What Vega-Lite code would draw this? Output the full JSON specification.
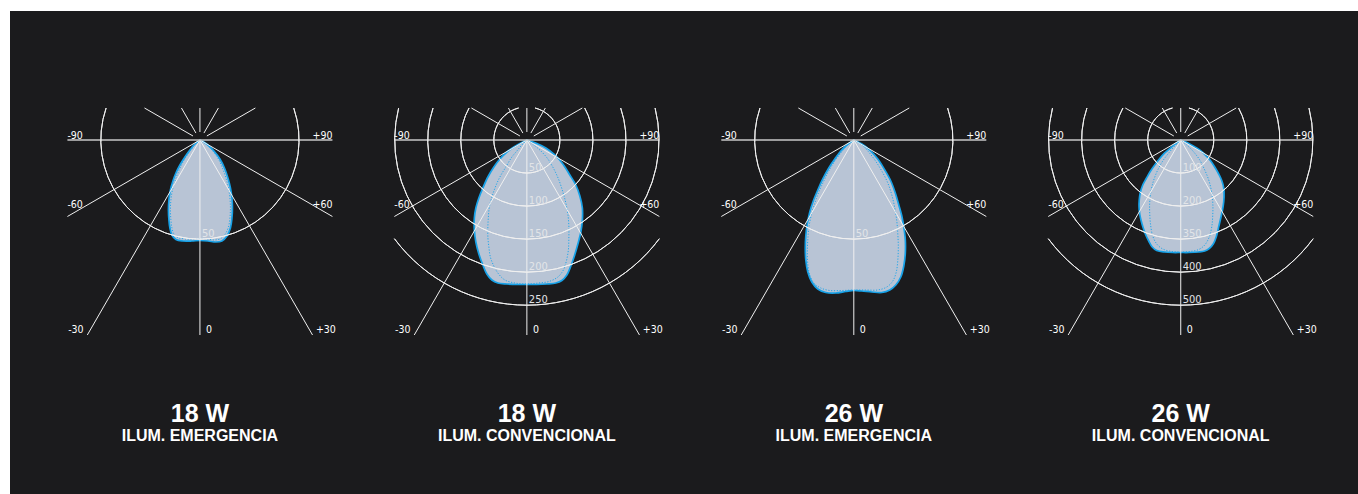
{
"$schema": "https://vega.github.io/schema/vega-lite/v6.json",
"width": 1348, "height": 483,
"padding": {"left": 10, "top": 11, "right": 0, "bottom": 0},
"autosize": {"type": "pad"},
"background": "white",
"config": {"view": {"fill": "#1b1b1d", "stroke": null}},
"datasets": {
"shapes": [
{"panel":1,"curve":"outer","i":0,"x":0,"y":0},{"panel":1,"curve":"outer","i":1,"x":-0.151,"y":0.121},{"panel":1,"curve":"outer","i":2,"x":-0.303,"y":0.303},{"panel":1,"curve":"outer","i":3,"x":-0.454,"y":0.515},{"panel":1,"curve":"outer","i":4,"x":-0.605,"y":0.757},{"panel":1,"curve":"outer","i":5,"x":-0.726,"y":0.999},{"panel":1,"curve":"outer","i":6,"x":-0.817,"y":1.241},{"panel":1,"curve":"outer","i":7,"x":-0.893,"y":1.513},{"panel":1,"curve":"outer","i":8,"x":-0.938,"y":1.816},{"panel":1,"curve":"outer","i":9,"x":-0.953,"y":2.119},{"panel":1,"curve":"outer","i":10,"x":-0.938,"y":2.421},{"panel":1,"curve":"outer","i":11,"x":-0.908,"y":2.663},{"panel":1,"curve":"outer","i":12,"x":-0.847,"y":2.875},{"panel":1,"curve":"outer","i":13,"x":-0.726,"y":3.012},{"panel":1,"curve":"outer","i":14,"x":-0.515,"y":3.057},{"panel":1,"curve":"outer","i":15,"x":-0.242,"y":3.057},{"panel":1,"curve":"outer","i":16,"x":0,"y":3.042},{"panel":1,"curve":"outer","i":17,"x":0.242,"y":3.057},{"panel":1,"curve":"outer","i":18,"x":0.484,"y":3.087},{"panel":1,"curve":"outer","i":19,"x":0.666,"y":3.057},{"panel":1,"curve":"outer","i":20,"x":0.817,"y":2.906},{"panel":1,"curve":"outer","i":21,"x":0.923,"y":2.663},{"panel":1,"curve":"outer","i":22,"x":0.969,"y":2.361},{"panel":1,"curve":"outer","i":23,"x":0.984,"y":2.058},{"panel":1,"curve":"outer","i":24,"x":0.969,"y":1.755},{"panel":1,"curve":"outer","i":25,"x":0.923,"y":1.453},{"panel":1,"curve":"outer","i":26,"x":0.847,"y":1.15},{"panel":1,"curve":"outer","i":27,"x":0.742,"y":0.847},{"panel":1,"curve":"outer","i":28,"x":0.605,"y":0.575},{"panel":1,"curve":"outer","i":29,"x":0.424,"y":0.333},{"panel":1,"curve":"outer","i":30,"x":0.242,"y":0.151},{"panel":1,"curve":"outer","i":31,"x":0.091,"y":0.045},{"panel":1,"curve":"outer","i":32,"x":0,"y":0},
{"panel":1,"curve":"inner","i":0,"x":0,"y":0},{"panel":1,"curve":"inner","i":1,"x":-0.136,"y":0.121},{"panel":1,"curve":"inner","i":2,"x":-0.272,"y":0.303},{"panel":1,"curve":"inner","i":3,"x":-0.424,"y":0.515},{"panel":1,"curve":"inner","i":4,"x":-0.56,"y":0.757},{"panel":1,"curve":"inner","i":5,"x":-0.666,"y":0.999},{"panel":1,"curve":"inner","i":6,"x":-0.757,"y":1.241},{"panel":1,"curve":"inner","i":7,"x":-0.832,"y":1.513},{"panel":1,"curve":"inner","i":8,"x":-0.878,"y":1.816},{"panel":1,"curve":"inner","i":9,"x":-0.893,"y":2.119},{"panel":1,"curve":"inner","i":10,"x":-0.878,"y":2.421},{"panel":1,"curve":"inner","i":11,"x":-0.847,"y":2.663},{"panel":1,"curve":"inner","i":12,"x":-0.787,"y":2.845},{"panel":1,"curve":"inner","i":13,"x":-0.666,"y":2.951},{"panel":1,"curve":"inner","i":14,"x":-0.454,"y":2.996},{"panel":1,"curve":"inner","i":15,"x":-0.212,"y":2.996},{"panel":1,"curve":"inner","i":16,"x":0,"y":2.981},{"panel":1,"curve":"inner","i":17,"x":0.212,"y":2.996},{"panel":1,"curve":"inner","i":18,"x":0.424,"y":3.027},{"panel":1,"curve":"inner","i":19,"x":0.605,"y":2.996},{"panel":1,"curve":"inner","i":20,"x":0.757,"y":2.86},{"panel":1,"curve":"inner","i":21,"x":0.863,"y":2.633},{"panel":1,"curve":"inner","i":22,"x":0.908,"y":2.361},{"panel":1,"curve":"inner","i":23,"x":0.923,"y":2.058},{"panel":1,"curve":"inner","i":24,"x":0.908,"y":1.755},{"panel":1,"curve":"inner","i":25,"x":0.863,"y":1.453},{"panel":1,"curve":"inner","i":26,"x":0.787,"y":1.15},{"panel":1,"curve":"inner","i":27,"x":0.681,"y":0.847},{"panel":1,"curve":"inner","i":28,"x":0.56,"y":0.575},{"panel":1,"curve":"inner","i":29,"x":0.393,"y":0.333},{"panel":1,"curve":"inner","i":30,"x":0.227,"y":0.151},{"panel":1,"curve":"inner","i":31,"x":0.091,"y":0.045},{"panel":1,"curve":"inner","i":32,"x":0,"y":0},
{"panel":2,"curve":"outer","i":0,"x":0,"y":0},{"panel":2,"curve":"outer","i":1,"x":-0.182,"y":0.091},{"panel":2,"curve":"outer","i":2,"x":-0.393,"y":0.212},{"panel":2,"curve":"outer","i":3,"x":-0.605,"y":0.363},{"panel":2,"curve":"outer","i":4,"x":-0.817,"y":0.575},{"panel":2,"curve":"outer","i":5,"x":-0.999,"y":0.817},{"panel":2,"curve":"outer","i":6,"x":-1.18,"y":1.12},{"panel":2,"curve":"outer","i":7,"x":-1.332,"y":1.453},{"panel":2,"curve":"outer","i":8,"x":-1.453,"y":1.755},{"panel":2,"curve":"outer","i":9,"x":-1.544,"y":2.058},{"panel":2,"curve":"outer","i":10,"x":-1.589,"y":2.361},{"panel":2,"curve":"outer","i":11,"x":-1.589,"y":2.724},{"panel":2,"curve":"outer","i":12,"x":-1.544,"y":3.087},{"panel":2,"curve":"outer","i":13,"x":-1.453,"y":3.45},{"panel":2,"curve":"outer","i":14,"x":-1.332,"y":3.783},{"panel":2,"curve":"outer","i":15,"x":-1.211,"y":4.056},{"panel":2,"curve":"outer","i":16,"x":-1.059,"y":4.237},{"panel":2,"curve":"outer","i":17,"x":-0.878,"y":4.328},{"panel":2,"curve":"outer","i":18,"x":-0.605,"y":4.358},{"panel":2,"curve":"outer","i":19,"x":-0.303,"y":4.373},{"panel":2,"curve":"outer","i":20,"x":0,"y":4.373},{"panel":2,"curve":"outer","i":21,"x":0.303,"y":4.373},{"panel":2,"curve":"outer","i":22,"x":0.605,"y":4.358},{"panel":2,"curve":"outer","i":23,"x":0.878,"y":4.328},{"panel":2,"curve":"outer","i":24,"x":1.059,"y":4.252},{"panel":2,"curve":"outer","i":25,"x":1.211,"y":4.086},{"panel":2,"curve":"outer","i":26,"x":1.332,"y":3.814},{"panel":2,"curve":"outer","i":27,"x":1.438,"y":3.511},{"panel":2,"curve":"outer","i":28,"x":1.544,"y":3.148},{"panel":2,"curve":"outer","i":29,"x":1.634,"y":2.785},{"panel":2,"curve":"outer","i":30,"x":1.68,"y":2.421},{"panel":2,"curve":"outer","i":31,"x":1.68,"y":2.058},{"panel":2,"curve":"outer","i":32,"x":1.604,"y":1.695},{"panel":2,"curve":"outer","i":33,"x":1.483,"y":1.362},{"panel":2,"curve":"outer","i":34,"x":1.301,"y":1.059},{"panel":2,"curve":"outer","i":35,"x":1.09,"y":0.726},{"panel":2,"curve":"outer","i":36,"x":0.847,"y":0.454},{"panel":2,"curve":"outer","i":37,"x":0.575,"y":0.242},{"panel":2,"curve":"outer","i":38,"x":0.303,"y":0.106},{"panel":2,"curve":"outer","i":39,"x":0,"y":0},
{"panel":2,"curve":"inner","i":0,"x":0,"y":0},{"panel":2,"curve":"inner","i":1,"x":-0.151,"y":0.151},{"panel":2,"curve":"inner","i":2,"x":-0.303,"y":0.333},{"panel":2,"curve":"inner","i":3,"x":-0.454,"y":0.515},{"panel":2,"curve":"inner","i":4,"x":-0.636,"y":0.817},{"panel":2,"curve":"inner","i":5,"x":-0.817,"y":1.12},{"panel":2,"curve":"inner","i":6,"x":-0.953,"y":1.423},{"panel":2,"curve":"inner","i":7,"x":-1.059,"y":1.725},{"panel":2,"curve":"inner","i":8,"x":-1.135,"y":2.028},{"panel":2,"curve":"inner","i":9,"x":-1.165,"y":2.331},{"panel":2,"curve":"inner","i":10,"x":-1.18,"y":2.633},{"panel":2,"curve":"inner","i":11,"x":-1.18,"y":2.936},{"panel":2,"curve":"inner","i":12,"x":-1.15,"y":3.239},{"panel":2,"curve":"inner","i":13,"x":-1.105,"y":3.541},{"panel":2,"curve":"inner","i":14,"x":-1.014,"y":3.783},{"panel":2,"curve":"inner","i":15,"x":-0.878,"y":4.025},{"panel":2,"curve":"inner","i":16,"x":-0.666,"y":4.237},{"panel":2,"curve":"inner","i":17,"x":-0.363,"y":4.328},{"panel":2,"curve":"inner","i":18,"x":0,"y":4.358},{"panel":2,"curve":"inner","i":19,"x":0.363,"y":4.328},{"panel":2,"curve":"inner","i":20,"x":0.666,"y":4.283},{"panel":2,"curve":"inner","i":21,"x":0.938,"y":4.147},{"panel":2,"curve":"inner","i":22,"x":1.105,"y":3.935},{"panel":2,"curve":"inner","i":23,"x":1.196,"y":3.662},{"panel":2,"curve":"inner","i":24,"x":1.256,"y":3.329},{"panel":2,"curve":"inner","i":25,"x":1.271,"y":2.966},{"panel":2,"curve":"inner","i":26,"x":1.271,"y":2.603},{"panel":2,"curve":"inner","i":27,"x":1.241,"y":2.24},{"panel":2,"curve":"inner","i":28,"x":1.18,"y":1.907},{"panel":2,"curve":"inner","i":29,"x":1.09,"y":1.574},{"panel":2,"curve":"inner","i":30,"x":0.969,"y":1.211},{"panel":2,"curve":"inner","i":31,"x":0.817,"y":0.878},{"panel":2,"curve":"inner","i":32,"x":0.636,"y":0.575},{"panel":2,"curve":"inner","i":33,"x":0.424,"y":0.333},{"panel":2,"curve":"inner","i":34,"x":0.212,"y":0.151},{"panel":2,"curve":"inner","i":35,"x":0,"y":0},
{"panel":3,"curve":"outer","i":0,"x":0,"y":0},{"panel":3,"curve":"outer","i":1,"x":-0.212,"y":0.151},{"panel":3,"curve":"outer","i":2,"x":-0.393,"y":0.333},{"panel":3,"curve":"outer","i":3,"x":-0.575,"y":0.575},{"panel":3,"curve":"outer","i":4,"x":-0.757,"y":0.847},{"panel":3,"curve":"outer","i":5,"x":-0.938,"y":1.18},{"panel":3,"curve":"outer","i":6,"x":-1.09,"y":1.513},{"panel":3,"curve":"outer","i":7,"x":-1.226,"y":1.846},{"panel":3,"curve":"outer","i":8,"x":-1.332,"y":2.179},{"panel":3,"curve":"outer","i":9,"x":-1.407,"y":2.542},{"panel":3,"curve":"outer","i":10,"x":-1.453,"y":2.906},{"panel":3,"curve":"outer","i":11,"x":-1.468,"y":3.269},{"panel":3,"curve":"outer","i":12,"x":-1.453,"y":3.632},{"panel":3,"curve":"outer","i":13,"x":-1.392,"y":3.995},{"panel":3,"curve":"outer","i":14,"x":-1.271,"y":4.298},{"panel":3,"curve":"outer","i":15,"x":-1.09,"y":4.51},{"panel":3,"curve":"outer","i":16,"x":-0.847,"y":4.616},{"panel":3,"curve":"outer","i":17,"x":-0.545,"y":4.631},{"panel":3,"curve":"outer","i":18,"x":-0.242,"y":4.585},{"panel":3,"curve":"outer","i":19,"x":0,"y":4.555},{"panel":3,"curve":"outer","i":20,"x":0.242,"y":4.57},{"panel":3,"curve":"outer","i":21,"x":0.545,"y":4.6},{"panel":3,"curve":"outer","i":22,"x":0.847,"y":4.616},{"panel":3,"curve":"outer","i":23,"x":1.09,"y":4.54},{"panel":3,"curve":"outer","i":24,"x":1.271,"y":4.389},{"panel":3,"curve":"outer","i":25,"x":1.423,"y":4.147},{"panel":3,"curve":"outer","i":26,"x":1.513,"y":3.814},{"panel":3,"curve":"outer","i":27,"x":1.559,"y":3.42},{"panel":3,"curve":"outer","i":28,"x":1.559,"y":3.027},{"panel":3,"curve":"outer","i":29,"x":1.513,"y":2.633},{"panel":3,"curve":"outer","i":30,"x":1.453,"y":2.3},{"panel":3,"curve":"outer","i":31,"x":1.362,"y":1.967},{"panel":3,"curve":"outer","i":32,"x":1.256,"y":1.604},{"panel":3,"curve":"outer","i":33,"x":1.12,"y":1.241},{"panel":3,"curve":"outer","i":34,"x":0.938,"y":0.908},{"panel":3,"curve":"outer","i":35,"x":0.726,"y":0.575},{"panel":3,"curve":"outer","i":36,"x":0.484,"y":0.303},{"panel":3,"curve":"outer","i":37,"x":0.242,"y":0.121},{"panel":3,"curve":"outer","i":38,"x":0,"y":0},
{"panel":3,"curve":"inner","i":0,"x":0,"y":0},{"panel":3,"curve":"inner","i":1,"x":-0.212,"y":0.182},{"panel":3,"curve":"inner","i":2,"x":-0.393,"y":0.393},{"panel":3,"curve":"inner","i":3,"x":-0.575,"y":0.636},{"panel":3,"curve":"inner","i":4,"x":-0.757,"y":0.938},{"panel":3,"curve":"inner","i":5,"x":-0.908,"y":1.241},{"panel":3,"curve":"inner","i":6,"x":-1.059,"y":1.574},{"panel":3,"curve":"inner","i":7,"x":-1.18,"y":1.907},{"panel":3,"curve":"inner","i":8,"x":-1.286,"y":2.27},{"panel":3,"curve":"inner","i":9,"x":-1.362,"y":2.663},{"panel":3,"curve":"inner","i":10,"x":-1.392,"y":3.027},{"panel":3,"curve":"inner","i":11,"x":-1.407,"y":3.39},{"panel":3,"curve":"inner","i":12,"x":-1.392,"y":3.753},{"panel":3,"curve":"inner","i":13,"x":-1.332,"y":4.086},{"panel":3,"curve":"inner","i":14,"x":-1.211,"y":4.328},{"panel":3,"curve":"inner","i":15,"x":-0.999,"y":4.479},{"panel":3,"curve":"inner","i":16,"x":-0.726,"y":4.555},{"panel":3,"curve":"inner","i":17,"x":-0.363,"y":4.555},{"panel":3,"curve":"inner","i":18,"x":0,"y":4.54},{"panel":3,"curve":"inner","i":19,"x":0.363,"y":4.54},{"panel":3,"curve":"inner","i":20,"x":0.726,"y":4.54},{"panel":3,"curve":"inner","i":21,"x":0.999,"y":4.449},{"panel":3,"curve":"inner","i":22,"x":1.18,"y":4.268},{"panel":3,"curve":"inner","i":23,"x":1.286,"y":3.995},{"panel":3,"curve":"inner","i":24,"x":1.332,"y":3.632},{"panel":3,"curve":"inner","i":25,"x":1.347,"y":3.239},{"panel":3,"curve":"inner","i":26,"x":1.332,"y":2.845},{"panel":3,"curve":"inner","i":27,"x":1.301,"y":2.452},{"panel":3,"curve":"inner","i":28,"x":1.241,"y":2.058},{"panel":3,"curve":"inner","i":29,"x":1.15,"y":1.665},{"panel":3,"curve":"inner","i":30,"x":1.029,"y":1.301},{"panel":3,"curve":"inner","i":31,"x":0.847,"y":0.938},{"panel":3,"curve":"inner","i":32,"x":0.636,"y":0.605},{"panel":3,"curve":"inner","i":33,"x":0.424,"y":0.333},{"panel":3,"curve":"inner","i":34,"x":0.212,"y":0.121},{"panel":3,"curve":"inner","i":35,"x":0,"y":0},
{"panel":4,"curve":"outer","i":0,"x":0,"y":0},{"panel":4,"curve":"outer","i":1,"x":-0.151,"y":0.106},{"panel":4,"curve":"outer","i":2,"x":-0.324,"y":0.251},{"panel":4,"curve":"outer","i":3,"x":-0.484,"y":0.393},{"panel":4,"curve":"outer","i":4,"x":-0.636,"y":0.56},{"panel":4,"curve":"outer","i":5,"x":-0.787,"y":0.757},{"panel":4,"curve":"outer","i":6,"x":-0.923,"y":0.953},{"panel":4,"curve":"outer","i":7,"x":-1.044,"y":1.165},{"panel":4,"curve":"outer","i":8,"x":-1.15,"y":1.362},{"panel":4,"curve":"outer","i":9,"x":-1.226,"y":1.604},{"panel":4,"curve":"outer","i":10,"x":-1.256,"y":1.816},{"panel":4,"curve":"outer","i":11,"x":-1.262,"y":2.028},{"panel":4,"curve":"outer","i":12,"x":-1.241,"y":2.24},{"panel":4,"curve":"outer","i":13,"x":-1.196,"y":2.452},{"panel":4,"curve":"outer","i":14,"x":-1.135,"y":2.663},{"panel":4,"curve":"outer","i":15,"x":-1.059,"y":2.875},{"panel":4,"curve":"outer","i":16,"x":-0.969,"y":3.057},{"panel":4,"curve":"outer","i":17,"x":-0.863,"y":3.239},{"panel":4,"curve":"outer","i":18,"x":-0.726,"y":3.344},{"panel":4,"curve":"outer","i":19,"x":-0.484,"y":3.39},{"panel":4,"curve":"outer","i":20,"x":-0.242,"y":3.405},{"panel":4,"curve":"outer","i":21,"x":0,"y":3.405},{"panel":4,"curve":"outer","i":22,"x":0.242,"y":3.405},{"panel":4,"curve":"outer","i":23,"x":0.536,"y":3.39},{"panel":4,"curve":"outer","i":24,"x":0.726,"y":3.36},{"panel":4,"curve":"outer","i":25,"x":0.863,"y":3.284},{"panel":4,"curve":"outer","i":26,"x":0.984,"y":3.148},{"panel":4,"curve":"outer","i":27,"x":1.074,"y":2.936},{"panel":4,"curve":"outer","i":28,"x":1.141,"y":2.663},{"panel":4,"curve":"outer","i":29,"x":1.211,"y":2.361},{"panel":4,"curve":"outer","i":30,"x":1.28,"y":2.028},{"panel":4,"curve":"outer","i":31,"x":1.311,"y":1.725},{"panel":4,"curve":"outer","i":32,"x":1.301,"y":1.453},{"panel":4,"curve":"outer","i":33,"x":1.241,"y":1.226},{"panel":4,"curve":"outer","i":34,"x":1.15,"y":1.029},{"panel":4,"curve":"outer","i":35,"x":1.029,"y":0.817},{"panel":4,"curve":"outer","i":36,"x":0.887,"y":0.605},{"panel":4,"curve":"outer","i":37,"x":0.757,"y":0.469},{"panel":4,"curve":"outer","i":38,"x":0.636,"y":0.354},{"panel":4,"curve":"outer","i":39,"x":0.484,"y":0.242},{"panel":4,"curve":"outer","i":40,"x":0.324,"y":0.151},{"panel":4,"curve":"outer","i":41,"x":0.151,"y":0.061},{"panel":4,"curve":"outer","i":42,"x":0,"y":0},
{"panel":4,"curve":"inner","i":0,"x":0,"y":0},{"panel":4,"curve":"inner","i":1,"x":-0.182,"y":0.182},{"panel":4,"curve":"inner","i":2,"x":-0.363,"y":0.393},{"panel":4,"curve":"inner","i":3,"x":-0.545,"y":0.636},{"panel":4,"curve":"inner","i":4,"x":-0.696,"y":0.908},{"panel":4,"curve":"inner","i":5,"x":-0.817,"y":1.211},{"panel":4,"curve":"inner","i":6,"x":-0.893,"y":1.513},{"panel":4,"curve":"inner","i":7,"x":-0.938,"y":1.877},{"panel":4,"curve":"inner","i":8,"x":-0.938,"y":2.24},{"panel":4,"curve":"inner","i":9,"x":-0.908,"y":2.603},{"panel":4,"curve":"inner","i":10,"x":-0.847,"y":2.906},{"panel":4,"curve":"inner","i":11,"x":-0.726,"y":3.148},{"panel":4,"curve":"inner","i":12,"x":-0.545,"y":3.299},{"panel":4,"curve":"inner","i":13,"x":-0.272,"y":3.375},{"panel":4,"curve":"inner","i":14,"x":0,"y":3.39},{"panel":4,"curve":"inner","i":15,"x":0.272,"y":3.375},{"panel":4,"curve":"inner","i":16,"x":0.545,"y":3.314},{"panel":4,"curve":"inner","i":17,"x":0.726,"y":3.178},{"panel":4,"curve":"inner","i":18,"x":0.863,"y":2.936},{"panel":4,"curve":"inner","i":19,"x":0.938,"y":2.633},{"panel":4,"curve":"inner","i":20,"x":0.969,"y":2.27},{"panel":4,"curve":"inner","i":21,"x":0.969,"y":1.877},{"panel":4,"curve":"inner","i":22,"x":0.923,"y":1.513},{"panel":4,"curve":"inner","i":23,"x":0.847,"y":1.211},{"panel":4,"curve":"inner","i":24,"x":0.726,"y":0.908},{"panel":4,"curve":"inner","i":25,"x":0.575,"y":0.605},{"panel":4,"curve":"inner","i":26,"x":0.393,"y":0.363},{"panel":4,"curve":"inner","i":27,"x":0.182,"y":0.151},{"panel":4,"curve":"inner","i":28,"x":0,"y":0}
],
"rays": [
{"panel":[1,2,3,4],"ray":"h","i":0,"x":-4.01,"y":0},{"panel":[1,2,3,4],"ray":"h","i":1,"x":4.01,"y":0},
{"panel":[1,2,3,4],"ray":"0","i":0,"x":0,"y":0},{"panel":[1,2,3,4],"ray":"0","i":1,"x":0,"y":5.902},
{"panel":[1,2,3,4],"ray":"-30","i":0,"x":0,"y":0},{"panel":[1,2,3,4],"ray":"-30","i":1,"x":-3.408,"y":5.902},
{"panel":[1,2,3,4],"ray":"+30","i":0,"x":0,"y":0},{"panel":[1,2,3,4],"ray":"+30","i":1,"x":3.408,"y":5.902},
{"panel":[1,2,3,4],"ray":"-60","i":0,"x":0,"y":0},{"panel":[1,2,3,4],"ray":"-60","i":1,"x":-4.01,"y":2.315},
{"panel":[1,2,3,4],"ray":"+60","i":0,"x":0,"y":0},{"panel":[1,2,3,4],"ray":"+60","i":1,"x":4.01,"y":2.315},
{"panel":[1,2,3,4],"ray":"180","i":0,"x":0,"y":-0.242},{"panel":[1,2,3,4],"ray":"180","i":1,"x":0,"y":-0.9685},
{"panel":[1,2,3,4],"ray":"-150","i":0,"x":-0.121,"y":-0.21},{"panel":[1,2,3,4],"ray":"-150","i":1,"x":-0.559,"y":-0.9685},
{"panel":[1,2,3,4],"ray":"+150","i":0,"x":0.121,"y":-0.21},{"panel":[1,2,3,4],"ray":"+150","i":1,"x":0.559,"y":-0.9685},
{"panel":[1,2,3,4],"ray":"-120","i":0,"x":-0.21,"y":-0.121},{"panel":[1,2,3,4],"ray":"-120","i":1,"x":-1.678,"y":-0.9685},
{"panel":[1,2,3,4],"ray":"+120","i":0,"x":0.21,"y":-0.121},{"panel":[1,2,3,4],"ray":"+120","i":1,"x":1.678,"y":-0.9685}
],
"rings": [
{"panel":1,"r":3,"label":"50","t0":71.17,"t1":288.83},
{"panel":2,"r":1,"label":"50","t0":14.42,"t1":345.58},
{"panel":2,"r":2,"label":"100","t0":61.03,"t1":298.97},
{"panel":2,"r":3,"label":"150","t0":71.17,"t1":288.83},
{"panel":2,"r":4,"label":"200","t0":75.99,"t1":284.01},
{"panel":2,"r":5,"label":"250","t0":126.68,"t1":233.32},
{"panel":3,"r":3,"label":"50","t0":71.17,"t1":288.83},
{"panel":4,"r":1,"label":"100","t0":14.42,"t1":345.58},
{"panel":4,"r":2,"label":"200","t0":61.03,"t1":298.97},
{"panel":4,"r":3,"label":"350","t0":71.17,"t1":288.83},
{"panel":4,"r":4,"label":"400","t0":75.99,"t1":284.01},
{"panel":4,"r":5,"label":"500","t0":126.68,"t1":233.32}
],
"angles": [
{"panel":[1,2,3,4],"label":"-90","x":-4.01,"y":-0.03},
{"panel":[1,2,3,4],"label":"+90","x":4.01,"y":-0.03},
{"panel":[1,2,3,4],"label":"-60","x":-4.01,"y":2.067},
{"panel":[1,2,3,4],"label":"+60","x":4.01,"y":2.067},
{"panel":[1,2,3,4],"label":"-30","x":-3.52,"y":5.856},
{"panel":[1,2,3,4],"label":"0","x":0.182,"y":5.856},
{"panel":[1,2,3,4],"label":"+30","x":3.511,"y":5.856}
],
"titles": [
{"panel":1,"watt":"18 W","mode":"ILUM. EMERGENCIA"},
{"panel":2,"watt":"18 W","mode":"ILUM. CONVENCIONAL"},
{"panel":3,"watt":"26 W","mode":"ILUM. EMERGENCIA"},
{"panel":4,"watt":"26 W","mode":"ILUM. CONVENCIONAL"}
]
},
"layer": [
{"data":{"name":"shapes"},"transform":[{"filter":"datum.curve === 'outer'"}],
 "mark":{"type":"line","interpolate":"catmull-rom","fill":"#b8c4d5","stroke":"#17a2e8","strokeWidth":1.7,"strokeJoin":"round"},
 "encoding":{
  "x":{"field":"panel","type":"nominal","axis":null,"scale":{"type":"band","domain":[1,2,3,4],"paddingInner":0.1896,"paddingOuter":0.15635,"align":0.5617}},
  "xOffset":{"field":"x","type":"quantitative","scale":{"domain":[-4.01,4.01],"range":[0,265],"nice":false,"zero":false}},
  "y":{"field":"y","type":"quantitative","axis":null,"scale":{"domain":[-3.904,10.714],"reverse":true,"nice":false,"zero":false}},
  "detail":{"field":"panel","type":"nominal"},
  "order":{"field":"i","type":"quantitative"}}},
{"data":{"name":"shapes"},"transform":[{"filter":"datum.curve === 'inner'"}],
 "mark":{"type":"line","interpolate":"catmull-rom","stroke":"#22a6ea","strokeWidth":1,"strokeDash":[1.2,1.6]},
 "encoding":{
  "x":{"field":"panel","type":"nominal","axis":null,"scale":{"type":"band","domain":[1,2,3,4],"paddingInner":0.1896,"paddingOuter":0.15635,"align":0.5617}},
  "xOffset":{"field":"x","type":"quantitative","scale":{"domain":[-4.01,4.01],"range":[0,265],"nice":false,"zero":false}},
  "y":{"field":"y","type":"quantitative","axis":null,"scale":{"domain":[-3.904,10.714],"reverse":true,"nice":false,"zero":false}},
  "detail":{"field":"panel","type":"nominal"},
  "order":{"field":"i","type":"quantitative"}}},
{"data":{"name":"rays"},"transform":[{"flatten":["panel"]},{"filter":"datum.ray !== 'h'"}],
 "mark":{"type":"line","stroke":"#f0f0f0","strokeWidth":1},
 "encoding":{
  "x":{"field":"panel","type":"nominal","axis":null,"scale":{"type":"band","domain":[1,2,3,4],"paddingInner":0.1896,"paddingOuter":0.15635,"align":0.5617}},
  "xOffset":{"field":"x","type":"quantitative","scale":{"domain":[-4.01,4.01],"range":[0,265],"nice":false,"zero":false}},
  "y":{"field":"y","type":"quantitative","axis":null,"scale":{"domain":[-3.904,10.714],"reverse":true,"nice":false,"zero":false}},
  "detail":[{"field":"panel","type":"nominal"},{"field":"ray","type":"nominal"}],
  "order":{"field":"i","type":"quantitative"}}},
{"data":{"name":"rays"},"transform":[{"flatten":["panel"]},{"filter":"datum.ray === 'h'"}],
 "mark":{"type":"line","stroke":"#c9c9c9","strokeWidth":1.6},
 "encoding":{
  "x":{"field":"panel","type":"nominal","axis":null,"scale":{"type":"band","domain":[1,2,3,4],"paddingInner":0.1896,"paddingOuter":0.15635,"align":0.5617}},
  "xOffset":{"field":"x","type":"quantitative","scale":{"domain":[-4.01,4.01],"range":[0,265],"nice":false,"zero":false}},
  "y":{"field":"y","type":"quantitative","axis":null,"scale":{"domain":[-3.904,10.714],"reverse":true,"nice":false,"zero":false}},
  "detail":[{"field":"panel","type":"nominal"},{"field":"ray","type":"nominal"}],
  "order":{"field":"i","type":"quantitative"}}},
{"data":{"name":"rings"},
 "mark":{"type":"arc","filled":false,"stroke":"#f0f0f0","strokeWidth":1},
 "encoding":{
  "x":{"field":"panel","type":"nominal","axis":null,"scale":{"type":"band","domain":[1,2,3,4],"paddingInner":0.1896,"paddingOuter":0.15635,"align":0.5617}},
  "xOffset":{"datum":0,"type":"quantitative","scale":{"domain":[-4.01,4.01],"range":[0,265],"nice":false,"zero":false}},
  "y":{"datum":0,"type":"quantitative","axis":null,"scale":{"domain":[-3.904,10.714],"reverse":true,"nice":false,"zero":false}},
  "theta":{"field":"t0","type":"quantitative","stack":null,"scale":{"domain":[0,360],"range":[0,6.283185307179586]}},
  "theta2":{"field":"t1"},
  "radius":{"field":"r","type":"quantitative","stack":null,"scale":{"type":"linear","domain":[0,10],"range":[0,330.4],"zero":true,"nice":false}},
  "radius2":{"field":"r"}}},
{"data":{"name":"rings"},
 "mark":{"type":"text","align":"left","baseline":"alphabetic","dx":2,"dy":-2,"font":"Liberation Sans Narrow, Arial Narrow, DejaVu Sans Condensed, sans-serif","fontSize":11,"color":"#e2e4e8"},
 "encoding":{
  "x":{"field":"panel","type":"nominal","axis":null,"scale":{"type":"band","domain":[1,2,3,4],"paddingInner":0.1896,"paddingOuter":0.15635,"align":0.5617}},
  "xOffset":{"datum":0,"type":"quantitative","scale":{"domain":[-4.01,4.01],"range":[0,265],"nice":false,"zero":false}},
  "y":{"field":"r","type":"quantitative","axis":null,"scale":{"domain":[-3.904,10.714],"reverse":true,"nice":false,"zero":false}},
  "text":{"field":"label"}}},
{"data":{"name":"angles"},"transform":[{"flatten":["panel"]},{"filter":"indexof(['-90','-60','0','+30'], datum.label) >= 0"}],
 "mark":{"type":"text","align":"left","baseline":"alphabetic","font":"Liberation Sans Narrow, Arial Narrow, DejaVu Sans Condensed, sans-serif","fontSize":10.5,"color":"#ffffff"},
 "encoding":{
  "x":{"field":"panel","type":"nominal","axis":null,"scale":{"type":"band","domain":[1,2,3,4],"paddingInner":0.1896,"paddingOuter":0.15635,"align":0.5617}},
  "xOffset":{"field":"x","type":"quantitative","scale":{"domain":[-4.01,4.01],"range":[0,265],"nice":false,"zero":false}},
  "y":{"field":"y","type":"quantitative","axis":null,"scale":{"domain":[-3.904,10.714],"reverse":true,"nice":false,"zero":false}},
  "text":{"field":"label"}}},
{"data":{"name":"angles"},"transform":[{"flatten":["panel"]},{"filter":"indexof(['+90','+60','-30'], datum.label) >= 0"}],
 "mark":{"type":"text","align":"right","baseline":"alphabetic","font":"Liberation Sans Narrow, Arial Narrow, DejaVu Sans Condensed, sans-serif","fontSize":10.5,"color":"#ffffff"},
 "encoding":{
  "x":{"field":"panel","type":"nominal","axis":null,"scale":{"type":"band","domain":[1,2,3,4],"paddingInner":0.1896,"paddingOuter":0.15635,"align":0.5617}},
  "xOffset":{"field":"x","type":"quantitative","scale":{"domain":[-4.01,4.01],"range":[0,265],"nice":false,"zero":false}},
  "y":{"field":"y","type":"quantitative","axis":null,"scale":{"domain":[-3.904,10.714],"reverse":true,"nice":false,"zero":false}},
  "text":{"field":"label"}}},
{"data":{"name":"titles"},
 "mark":{"type":"text","align":"center","baseline":"alphabetic","font":"Liberation Sans, Arial, sans-serif","fontWeight":"bold","fontSize":25,"color":"#ffffff"},
 "encoding":{
  "x":{"field":"panel","type":"nominal","axis":null,"scale":{"type":"band","domain":[1,2,3,4],"paddingInner":0.1896,"paddingOuter":0.15635,"align":0.5617}},
  "xOffset":{"datum":0,"type":"quantitative","scale":{"domain":[-4.01,4.01],"range":[0,265],"nice":false,"zero":false}},
  "y":{"datum":8.526,"type":"quantitative","axis":null,"scale":{"domain":[-3.904,10.714],"reverse":true,"nice":false,"zero":false}},
  "text":{"field":"watt"}}},
{"data":{"name":"titles"},
 "mark":{"type":"text","align":"center","baseline":"alphabetic","font":"Liberation Sans, Arial, sans-serif","fontWeight":"bold","fontSize":16,"color":"#ffffff"},
 "encoding":{
  "x":{"field":"panel","type":"nominal","axis":null,"scale":{"type":"band","domain":[1,2,3,4],"paddingInner":0.1896,"paddingOuter":0.15635,"align":0.5617}},
  "xOffset":{"datum":0,"type":"quantitative","scale":{"domain":[-4.01,4.01],"range":[0,265],"nice":false,"zero":false}},
  "y":{"datum":9.11,"type":"quantitative","axis":null,"scale":{"domain":[-3.904,10.714],"reverse":true,"nice":false,"zero":false}},
  "text":{"field":"mode"}}}
]
}
